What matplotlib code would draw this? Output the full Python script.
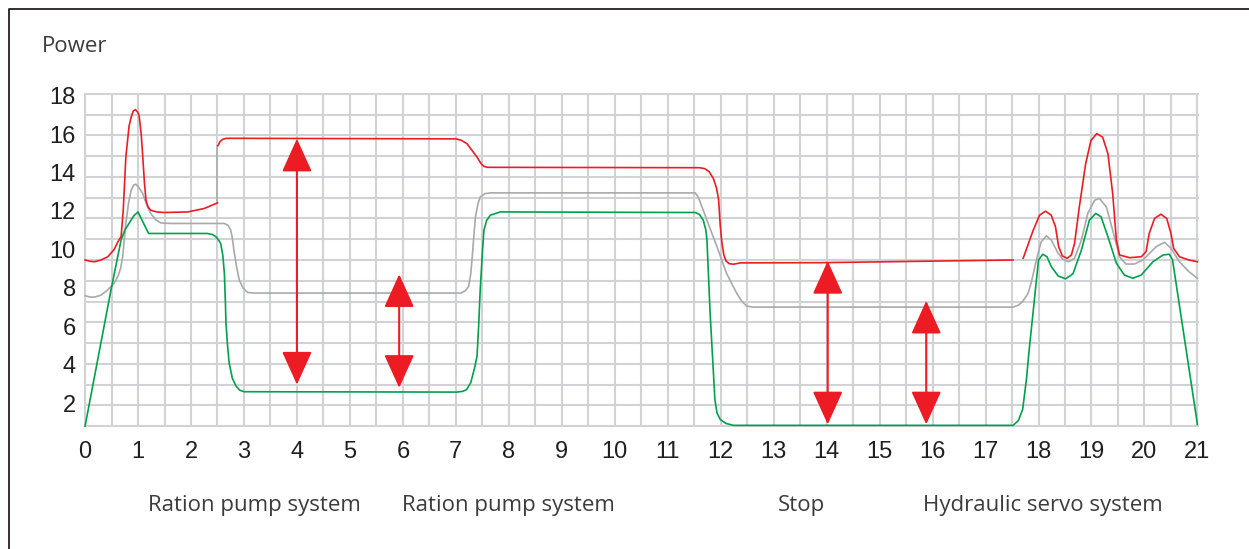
import numpy as np
import matplotlib
matplotlib.use("Agg")
import matplotlib.pyplot as plt
from matplotlib.lines import Line2D
from matplotlib.transforms import blended_transform_factory

nan = np.nan

# ---------------- data ----------------
red_x = [0.0, 0.1, 0.18, 0.3, 0.43, 0.55, 0.62, 0.68, 0.72, 0.77, 0.83, 0.87, 0.91, 0.95, 0.99, 1.02, 1.06, 1.09,
         1.12, 1.15, 1.19, 1.24, 1.35, 1.5, 1.94, 2.25, 2.5,
         nan,
         2.51, 2.55, 2.6, 2.67, 7.0, 7.1, 7.21, 7.4, 7.48, 7.53, 7.6, 11.6, 11.7, 11.78, 11.86, 11.92, 11.96,
         11.99, 12.02, 12.06, 12.1, 12.16, 12.24, 12.3, 12.37, 13.87, 17.52,
         nan,
         17.71, 17.9, 18.02, 18.13, 18.24, 18.32, 18.38, 18.45, 18.54, 18.62, 18.68, 18.77, 18.89, 18.99, 19.1,
         19.21, 19.31, 19.4, 19.47, 19.53, 19.72, 19.94, 20.03, 20.09, 20.19, 20.31, 20.42, 20.5, 20.55, 20.66,
         20.84, 21.0]
red_y = [9.45, 9.38, 9.36, 9.45, 9.62, 10.0, 10.4, 10.66, 12.0, 14.8, 16.4, 16.88, 17.2, 17.27, 17.15, 16.96, 16.0, 14.8,
         13.5, 12.56, 12.2, 12.04, 11.95, 11.92, 11.95, 12.13, 12.42,
         nan,
         15.4, 15.62, 15.73, 15.78, 15.75, 15.68, 15.5, 14.8, 14.45, 14.32, 14.27, 14.25, 14.2, 14.05, 13.7, 13.2, 12.6,
         11.3, 10.4, 9.7, 9.4, 9.26, 9.23, 9.26, 9.3, 9.31, 9.45,
         nan,
         9.54, 11.0, 11.78, 11.99, 11.78, 11.18, 10.14, 9.66, 9.54, 9.71, 10.31, 12.21, 14.46, 15.67, 16.02,
         15.84, 14.98, 12.9, 10.49, 9.71, 9.57, 9.62, 9.88, 10.83, 11.61, 11.83, 11.61, 10.83, 10.06, 9.62,
         9.45, 9.36]

# connector of the red jump at x = 2.5
jump_x = [2.5, 2.5]
jump_y = [12.42, 15.4]

gray_x = [0, 0.1, 0.18, 0.3, 0.43, 0.55, 0.62, 0.67, 0.71, 0.74, 0.77, 0.82, 0.87, 0.92, 0.96, 1.02, 1.09, 1.16,
          1.24, 1.33, 1.43, 1.62, 2.63, 2.7, 2.75, 2.78, 2.81, 2.86, 2.91, 2.98, 3.07, 3.2,
          7.09, 7.18, 7.24, 7.28, 7.31, 7.34, 7.37, 7.42, 7.46, 7.55, 7.65,
          11.52, 11.58, 11.74, 11.93, 12.11, 12.3, 12.4, 12.49, 12.6,
          17.52, 17.62, 17.7, 17.8, 17.86, 17.96, 18.05, 18.15, 18.24, 18.37, 18.46, 18.57, 18.68, 18.81, 18.93,
          19.06, 19.15, 19.28, 19.4, 19.53, 19.65, 19.81, 19.97, 20.22, 20.38, 20.5, 20.66, 20.84, 21.0]
gray_y = [7.59, 7.52, 7.52, 7.62, 7.9, 8.25, 8.59, 9.0, 9.62, 10.5, 11.35, 12.4, 13.08, 13.35, 13.39, 13.2, 12.9, 12.35,
          11.87, 11.55, 11.38, 11.35, 11.35, 11.25, 11.0, 10.6, 9.97, 9.1, 8.41, 8.0, 7.76, 7.73,
          7.73, 7.85, 8.07, 8.7, 9.62, 10.7, 11.69, 12.4, 12.73, 12.9, 12.94,
          12.94, 12.7, 11.52, 10.14, 8.76, 7.73, 7.3, 7.06, 7.0,
          7.0, 7.1, 7.29, 7.7, 8.24, 9.45, 10.4, 10.71, 10.49, 9.8, 9.49, 9.36, 9.54, 10.49, 11.87,
          12.56, 12.65, 12.21, 11.0, 9.62, 9.24, 9.24, 9.45, 10.14, 10.37, 10.06, 9.36, 8.84, 8.5]

green_x = [0, 0.49, 0.68, 0.75, 0.83, 0.92, 1.0, 1.09, 1.2, 2.31, 2.4, 2.47, 2.53, 2.56, 2.6, 2.63, 2.65, 2.66,
           2.69, 2.72, 2.78, 2.85, 2.92, 3.0,
           7.02, 7.13, 7.2, 7.28, 7.35, 7.4, 7.43, 7.46, 7.5, 7.53, 7.58, 7.65, 7.84,
           11.52, 11.6, 11.67, 11.72, 11.74, 11.77, 11.8, 11.85, 11.89, 11.93, 11.99, 12.1, 12.24,
           17.52, 17.62, 17.7, 17.77, 17.83, 17.9, 17.96, 18.0, 18.08, 18.16, 18.24, 18.37, 18.51, 18.65, 18.81,
           18.96, 19.08, 19.18, 19.31, 19.47, 19.62, 19.78, 19.94, 20.16, 20.35, 20.47, 20.53, 21.0]
green_y = [0.81, 7.9, 10.49, 11.0, 11.35, 11.75, 11.95, 11.44, 10.83, 10.83, 10.78, 10.66, 10.45, 10.31, 9.7, 8.76, 7.2, 6.17,
           5.0, 4.1, 3.3, 2.89, 2.68, 2.6,
           2.58, 2.62, 2.7, 3.06, 3.8, 4.44, 6.0, 7.9, 9.8, 11.0, 11.5, 11.78, 11.95,
           11.92, 11.82, 11.52, 11.0, 10.49, 8.6, 6.69, 4.2, 2.2, 1.5, 1.16, 0.95, 0.85,
           0.85, 1.1, 1.68, 3.2, 4.96, 6.8, 8.41, 9.45, 9.75, 9.62, 9.11, 8.62, 8.47, 8.73, 9.97,
           11.52, 11.87, 11.7, 10.66, 9.28, 8.67, 8.5, 8.67, 9.36, 9.71, 9.75, 9.45, 0.9]

arrow_x = [4.0, 5.93, 14.02, 15.88]
arrow_top = [15.76, 8.71, 9.4, 7.33]
arrow_bottom = [2.97, 2.8, 0.9, 0.9]

x_ticks = list(range(0, 22))
y_ticks = [2, 4, 6, 8, 10, 12, 14, 16, 18]
section_labels = ["Ration pump system", "Ration pump system", "Stop", "Hydraulic servo system"]
section_pos = [3.19, 7.99, 13.53, 18.09]
y_title = "Power"

# ---------------- style ----------------
RED = "#ED1C24"
GREEN = "#00A14B"
GRAY = "#A7A9AC"
GRID = "#D1D2D4"
TXT = "#231F20"
TXT2 = "#3C3C3C"

W, H = 1249, 549
fig = plt.figure(figsize=(W / 100, H / 100), dpi=100)
L, R, T, B = 84, 1198.5, 93.3, 426.7
ax = fig.add_axes([L / W, 1 - B / H, (R - L) / W, (B - T) / H])

ylo, yhi = 0.81, 18.09
ax.set_xlim(-0.02, 21.02)
ax.set_ylim(ylo - 0.03, yhi + 0.03)

ax.set_xticks(x_ticks)
ax.set_xticks(np.arange(0.5, 21, 1.0), minor=True)
ax.set_yticks(y_ticks)
ax.set_yticks(np.linspace(ylo, yhi, 17), minor=True)
ax.xaxis.grid(True, which="both", color=GRID, lw=1.5)
ax.yaxis.grid(True, which="minor", color=GRID, lw=1.5)
ax.yaxis.grid(False, which="major")
ax.set_axisbelow(True)
for s in ax.spines.values():
    s.set_visible(False)
ax.tick_params(which="both", length=0)
ax.tick_params(axis="x", pad=10)
ax.tick_params(axis="y", pad=6)
for lab in ax.get_xticklabels() + ax.get_yticklabels():
    lab.set_fontfamily("Liberation Sans")
    lab.set_fontsize(17)
    lab.set_color(TXT)

ax.plot(jump_x, jump_y, color=GRAY, lw=1.1, zorder=3)
ax.plot(gray_x, gray_y, color=GRAY, lw=1.2, zorder=3, solid_joinstyle="round")
ax.plot(green_x, green_y, color=GREEN, lw=1.2, zorder=4, solid_joinstyle="round")
ax.plot(red_x, red_y, color=RED, lw=1.2, zorder=5, solid_joinstyle="round")

for xa, yt, yb in zip(arrow_x, arrow_top, arrow_bottom):
    ax.annotate("", xy=(xa, yt), xytext=(xa, yb),
                arrowprops=dict(arrowstyle="<|-|>,head_length=2.1,head_width=0.95",
                                color=RED, lw=1.5, shrinkA=0, shrinkB=0, mutation_scale=10),
                zorder=6)

fig.text(42 / W, 1 - 46 / H, y_title, ha="left", va="center", fontsize=16,
         family="Open Sans", color=TXT2)

tr = blended_transform_factory(ax.transData, fig.transFigure)
for lbl, pos in zip(section_labels, section_pos):
    ax.text(pos, 1 - 505 / H, lbl, transform=tr, ha="center", va="center",
            fontsize=16, family="Open Sans", color=TXT2, clip_on=False)

fig.add_artist(Line2D([9 / W, 9 / W, 1], [0, 1 - 9 / H, 1 - 9 / H],
                      transform=fig.transFigure, color=TXT, lw=1.3))

fig.savefig("out.png", dpi=100, facecolor="white")
